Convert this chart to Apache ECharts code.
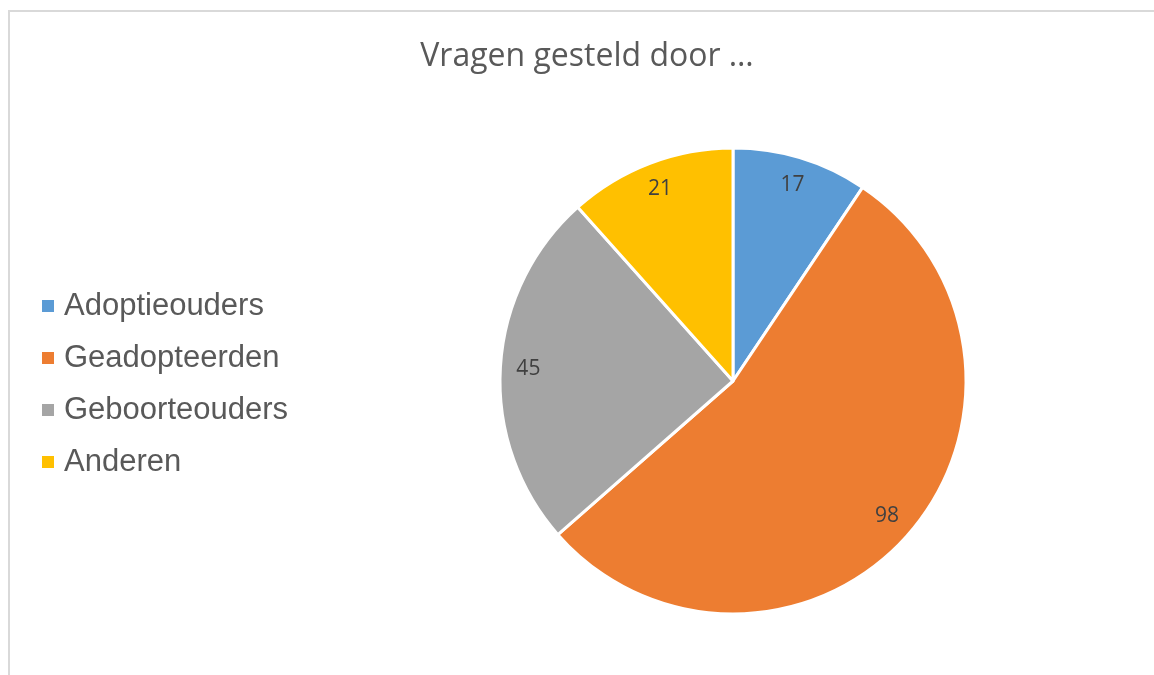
<!DOCTYPE html>
<html>
<head>
<meta charset="utf-8">
<script src="https://cdn.jsdelivr.net/npm/echarts@6/dist/echarts.min.js"></script>
<style>
  html, body { margin: 0; padding: 0; background: #fff; }
  #chart { width: 1154px; height: 675px; }
</style>
</head>
<body>
<div id="chart"></div>
<script>
// data
const categories = ['Adoptieouders', 'Geadopteerden', 'Geboorteouders', 'Anderen'];
const values = [17, 98, 45, 21];
const colors = ['#5B9BD5', '#ED7D31', '#A5A5A5', '#FFC000'];

const pieData = categories.map((name, i) => ({
    name: name,
    value: values[i],
    itemStyle: { color: colors[i] }
}));

// second, invisible ring only carries the value labels (closer to the rim)
const labelData = categories.map((name, i) => ({
    name: name,
    value: values[i],
    itemStyle: { color: 'rgba(0,0,0,0)' }
}));

let myChart = echarts.init(document.getElementById('chart'));

let option = {
    backgroundColor: '#fff',
    animation: false,
    title: {
        text: 'Vragen gesteld door …',
        left: 582,
        textAlign: 'center',
        top: 36,
        textStyle: {
            fontFamily: 'Open Sans',
            fontSize: 32,
            fontWeight: 'normal',
            color: '#595959'
        }
    },
    legend: {
        orient: 'vertical',
        left: 40,
        top: 289,
        padding: 0,
        itemWidth: 14,
        itemHeight: 14,
        itemGap: 18,
        icon: 'rect',
        selectedMode: false,
        data: categories.map((name, i) => ({ name: name, itemStyle: { color: colors[i] } })),
        textStyle: {
            fontFamily: 'Liberation Sans',
            fontSize: 31,
            lineHeight: 34,
            color: '#595959',
            padding: [0, 0, 0, 4]
        }
    },
    graphic: [{
        type: 'rect',
        silent: true,
        shape: { x: 9, y: 11, width: 1170, height: 700 },
        style: { fill: 'none', stroke: '#d9d9d9', lineWidth: 2 }
    }],
    series: [{
        name: 'Vragen',
        type: 'pie',
        center: [733, 381],
        radius: [0, 233],
        startAngle: 90,
        clockwise: true,
        silent: true,
        itemStyle: { borderColor: '#fff', borderWidth: 3 },
        label: { show: false },
        labelLine: { show: false },
        emphasis: { disabled: true },
        data: pieData
    }, {
        name: 'labels',
        type: 'pie',
        center: [733, 381],
        radius: [171, 233],
        startAngle: 90,
        clockwise: true,
        silent: true,
        itemStyle: { borderWidth: 0 },
        label: {
            show: true,
            position: 'inside',
            formatter: '{c}',
            fontFamily: 'Open Sans',
            fontSize: 21,
            color: '#404040',
            padding: [8, 0, 0, 0]
        },
        labelLine: { show: false },
        emphasis: { disabled: true },
        data: labelData
    }]
};

myChart.setOption(option);
</script>
</body>
</html>
